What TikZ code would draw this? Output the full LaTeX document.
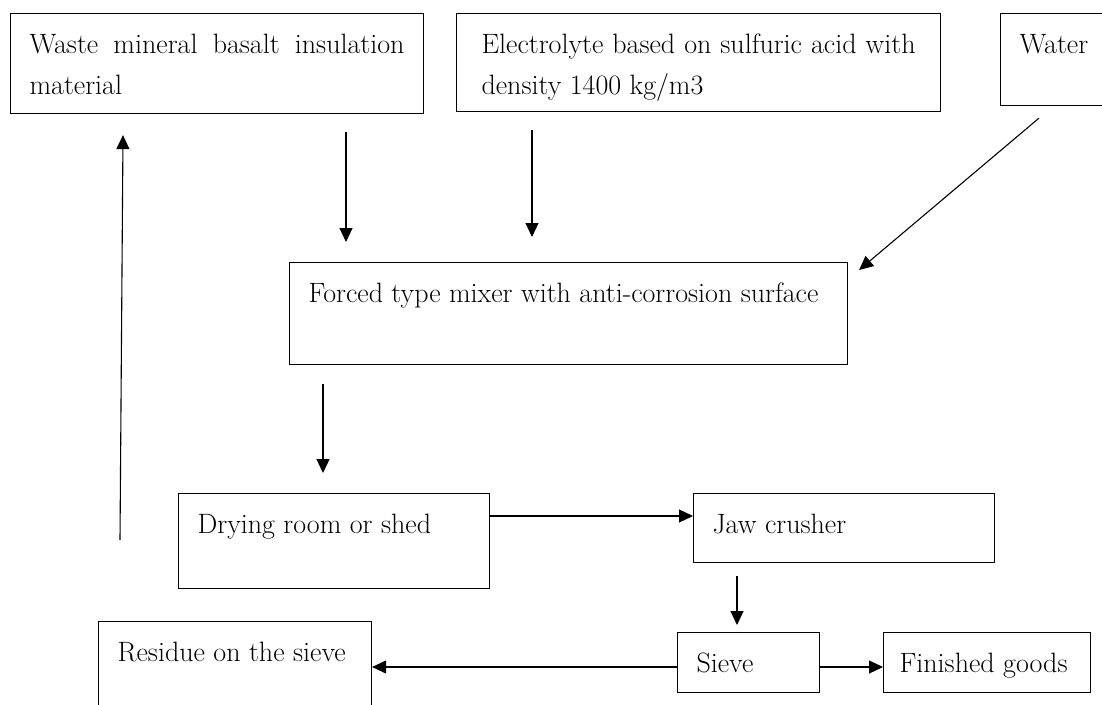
\documentclass[tikz,border=0pt]{standalone}
\usetikzlibrary{arrows.meta}
\tolerance=9999
\hyphenpenalty=10000
\exhyphenpenalty=10000

\tikzset{
    stagebox/.style = {
        draw,
        line width  = 1.1pt,
        anchor      = north west,
        inner xsep  = 19pt,
        inner ysep  = 0pt,
        align       = justify,
        text height = 40pt,
        font        = \fontsize{28}{41}\selectfont
    },
    flow/.style = {
        line width = 1.1pt,
        -{Triangle[length=14pt, width=13pt]}
    }
}

\begin{document}
\begin{tikzpicture}[x=1pt, y=-1pt]
    \useasboundingbox (0,0) rectangle (1102,704);

    % raw materials
    \node[stagebox, text width=375pt, text depth=60pt] (waste) at (10,13)
        {Waste mineral basalt insulation material};
    \node[stagebox, inner xsep=25pt, text width=434pt, text depth=58pt] (electrolyte) at (456,13)
        {Electrolyte based on sulfuric acid with density 1400 kg/m3};
    \node[stagebox, text width=82pt, text depth=52pt] (water) at (1000,13)
        {Water};

    % processing
    \node[stagebox, text width=520pt, text depth=62pt] (mixer) at (289,262)
        {Forced type mixer with anti-corrosion surface};
    \node[stagebox, text width=273pt, text depth=55pt] (drying) at (178,493)
        {Drying room or shed};
    \node[stagebox, text width=263pt, text depth=29pt] (jaw) at (693,493)
        {Jaw crusher};
    \node[stagebox, text width=104pt, text depth=20pt] (sieve) at (677,632)
        {Sieve};
    \node[stagebox, inner xsep=16pt, text width=175pt, text depth=20pt] (finished) at (883,632)
        {Finished goods};
    \node[stagebox, text width=235pt, text depth=60pt] (residue) at (98,621)
        {Residue on the sieve};

    \coordinate (loopstart) at (120,540);

    \draw[flow] ([xshift=336pt, yshift=-18pt]waste.south west) -- ([xshift=57pt, yshift=20pt]mixer.north west);
    \draw[flow] ([xshift=76pt, yshift=-18pt]electrolyte.south west) -- ([xshift=243pt, yshift=25pt]mixer.north west);
    \draw[flow] ([xshift=39pt, yshift=-12pt]water.south west) -- ([xshift=11pt, yshift=-8pt]mixer.north east);
    \draw[flow] ([xshift=34pt, yshift=-19pt]mixer.south west) -- ([xshift=145pt, yshift=20pt]drying.north west);
    \draw[flow] ([yshift=-23pt]drying.north east) -- ([yshift=-23pt]jaw.north west);
    \draw[flow] ([xshift=44pt, yshift=-13pt]jaw.south west) -- ([xshift=60pt, yshift=7pt]sieve.north west);
    \draw[flow] ([yshift=-35pt]sieve.north east) -- ([yshift=-35pt]finished.north west);
    \draw[flow] ([yshift=-35pt]sieve.north west) -- ([yshift=-46pt]residue.north east);
    \draw[flow] (loopstart) -- ([xshift=113pt, yshift=-21pt]waste.south west);
\end{tikzpicture}
\end{document}
